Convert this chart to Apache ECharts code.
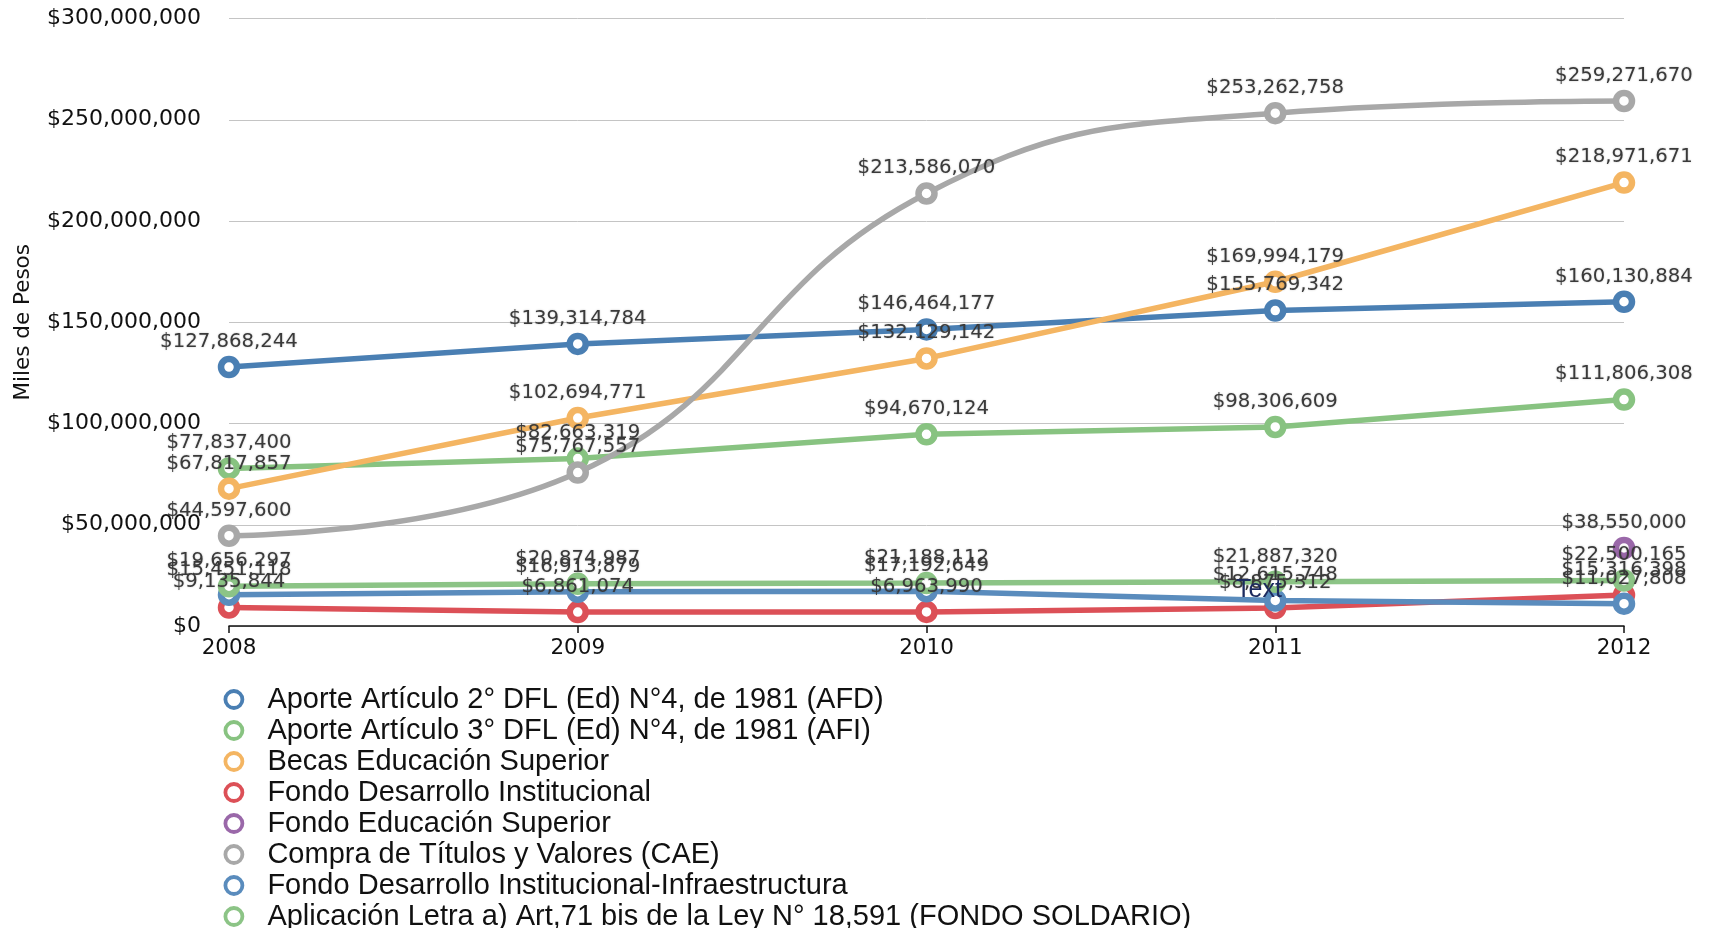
<!DOCTYPE html>
<html>
<head>
<meta charset="utf-8">
<script src="https://cdn.jsdelivr.net/npm/echarts@6/dist/echarts.min.js"></script>
<style>
html,body{margin:0;padding:0;background:#fff;}
#chart{width:1710px;height:928px;}
</style>
</head>
<body>
<div id="chart"></div>
<script>
const years = ['2008', '2009', '2010', '2011', '2012'];
const seriesNames = [
  'Aporte Artículo 2° DFL (Ed) N°4, de 1981 (AFD)',
  'Aporte Artículo 3° DFL (Ed) N°4, de 1981 (AFI)',
  'Becas Educación Superior',
  'Fondo Desarrollo Institucional',
  'Fondo Educación Superior',
  'Compra de Títulos y Valores (CAE)',
  'Fondo Desarrollo Institucional-Infraestructura',
  'Aplicación Letra a) Art,71 bis de la Ley N° 18,591 (FONDO SOLDARIO)'
];
const afd = [127868244, 139314784, 146464177, 155769342, 160130884];
const afi = [77837400, 82663319, 94670124, 98306609, 111806308];
const becas = [67817857, 102694771, 132129142, 169994179, 218971671];
const fdi = [9135844, 6861074, 6963990, 8875312, 15316398];
const fes = [null, null, null, null, 38550000];
const cae = [44597600, 75767557, 213586070, 253262758, 259271670];
const fdiInfra = [15451118, 16913879, 17192649, 12615748, 11027808];
const solidario = [19656297, 20874987, 21188112, 21887320, 22500165];
const yTicks = [0, 50000000, 100000000, 150000000, 200000000, 250000000, 300000000];

const colors = ['#4a7fb3', '#88c381', '#f4b562', '#dc5057', '#9a68a9', '#a8a8a8', '#5a8cbd', '#8cc486'];
const dataSets = [afd, afi, becas, fdi, fes, cae, fdiInfra, solidario];
const smoothFlags = [false, false, false, false, false, true, false, false];

const fmt = v => '$' + Number(v).toLocaleString('en-US');
const FONT = '"Liberation Sans", Arial, Helvetica, sans-serif';
const WIDE = '"DejaVu Sans", Verdana, sans-serif';

const chart = echarts.init(document.getElementById('chart'));
chart.setOption({
  animation: false,
  color: colors,
  grid: { left: 229, right: 86, top: 18.5, bottom: 302, containLabel: false },
  xAxis: {
    type: 'category',
    data: years,
    boundaryGap: false,
    axisLine: { lineStyle: { color: '#111', width: 1.5 } },
    axisTick: { show: true, length: 7, lineStyle: { color: '#111', width: 1.5 } },
    axisLabel: { color: '#111', fontSize: 21.5, fontFamily: WIDE, margin: 11 },
    splitLine: { show: false }
  },
  yAxis: {
    type: 'value',
    min: yTicks[0],
    max: yTicks[yTicks.length - 1],
    interval: yTicks[1] - yTicks[0],
    name: 'Miles de Pesos',
    nameLocation: 'middle',
    nameGap: 195,
    nameTextStyle: { color: '#111', fontSize: 21.5, fontFamily: WIDE },
    axisLine: { show: false },
    axisTick: { show: false },
    axisLabel: { color: '#111', fontSize: 22, fontFamily: WIDE, margin: 28, formatter: v => fmt(v) },
    splitLine: { lineStyle: { color: '#c4c4c4', width: 1 } }
  },
  legend: {
    orient: 'vertical',
    left: 218.5,
    top: 679,
    height: 260,
    icon: 'circle',
    itemWidth: 17,
    itemHeight: 17,
    itemGap: 0,
    itemStyle: { borderWidth: 3.8, color: '#fff' },
    textStyle: { color: '#111', fontSize: 29, fontFamily: FONT, lineHeight: 31, padding: [0, 0, 0, 20] },
    data: seriesNames
  },
  series: seriesNames.map((name, i) => ({
    name: name,
    type: 'line',
    data: dataSets[i],
    smooth: smoothFlags[i] ? 0.45 : false,
    symbol: 'circle',
    symbolSize: 16,
    showSymbol: true,
    connectNulls: false,
    lineStyle: { width: 5.5, color: colors[i] },
    itemStyle: { color: '#fff', borderColor: colors[i], borderWidth: 6.5 },
    label: {
      show: true,
      position: 'top',
      distance: 4,
      color: '#3a3a3a',
      fontSize: 19.7,
      fontFamily: WIDE,
      textShadowColor: 'rgba(0,0,0,0.25)',
      textShadowBlur: 2,
      formatter: p => (p.value == null ? '' : fmt(p.value))
    },
    emphasis: { disabled: true }
  })),
  graphic: [{
    type: 'text',
    z: 100,
    zlevel: 1,
    left: 1236,
    top: 578,
    style: { text: 'Text', fill: '#1c2a5e', fontSize: 25, fontFamily: FONT }
  }]
});
</script>
</body>
</html>
